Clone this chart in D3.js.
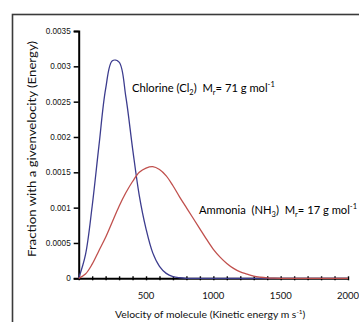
<!DOCTYPE html>
<html>
<head>
<meta charset="utf-8">
<script src="https://cdn.jsdelivr.net/npm/d3@7"></script>
<style>
  body { margin: 0; background: #fff; }
  svg { display: block; }
</style>
</head>
<body>
<div id="container"></div>
<script>
// velocities (m s-1) the curves were read at
var velocities = [0, 50, 100, 150, 200, 250, 300, 350, 400, 450, 500, 550, 600, 650, 700, 750, 800,
  850, 900, 950, 1000, 1050, 1100, 1150, 1200, 1250, 1300, 1350, 1400, 1450, 1500,
  1550, 1600, 1650, 1700, 1750, 1800, 1850, 1900, 1950, 2000]

var chlorine = [0, 0.00033, 0.00102, 0.00187, 0.00268, 0.00308, 0.00306, 0.00257, 0.00184, 0.00117,
  0.00070, 0.00036, 0.00017, 0.00007, 0.000025, 0.000008, 0,
  0, 0, 0, 0, 0, 0, 0, 0, 0, 0, 0, 0, 0, 0,
  0, 0, 0, 0, 0, 0, 0, 0, 0, 0]

var ammonia = [0, 0.00006, 0.00020, 0.00039, 0.00058, 0.00080, 0.00102, 0.00121, 0.00137, 0.00150,
  0.00156, 0.00158, 0.00154, 0.00145, 0.00131, 0.00115, 0.00100,
  0.00085, 0.00070, 0.00055, 0.00041, 0.00030, 0.00021, 0.00014, 0.00009, 0.00006, 0.00003,
  0.000015, 0.000006, 0.000002, 0,
  0, 0, 0, 0, 0, 0, 0, 0, 0, 0]

var yTicks = [0, 0.0005, 0.001, 0.0015, 0.002, 0.0025, 0.003, 0.0035]
var xTicks = [500, 1000, 1500, 2000]

var width = 359, height = 322

var svg = d3.select('#container').append('svg')
  .attr('width', width).attr('height', height)

// outer frame (runs off the right and bottom edges)
svg.append('rect')
  .attr('x', 12.5).attr('y', 14.5)
  .attr('width', 400).attr('height', 400)
  .attr('fill', '#fff').attr('stroke', '#3a3a3a').attr('stroke-width', 1.6)

var x = d3.scaleLinear().domain([0, 2000]).range([78.7, 348])
var y = d3.scaleLinear().domain([0, 0.0035]).range([278.3, 31])

// y axis
var yAxis = svg.append('g').attr('transform', 'translate(' + x(0) + ',0)')
  .call(d3.axisLeft(y).tickValues(yTicks).tickSize(5).tickPadding(3)
    .tickFormat(function (d) { return d === 0 ? '0' : String(+d.toFixed(4)) }))
yAxis.select('.domain').attr('stroke', '#000').attr('stroke-width', 2)
yAxis.selectAll('.tick line').attr('stroke', '#000').attr('stroke-width', 1.5)
yAxis.selectAll('.tick text')
  .attr('font-family', 'Liberation Sans, Arial, sans-serif')
  .attr('font-size', 8.2).attr('fill', '#111')

// x axis, minor marks every 100
var minor = d3.range(0, 2001, 100)
var xAxis = svg.append('g').attr('transform', 'translate(0,' + y(0) + ')')
  .call(d3.axisBottom(x).tickValues(minor).tickSize(0).tickFormat(''))
xAxis.select('.domain').attr('stroke', '#000').attr('stroke-width', 2)
xAxis.selectAll('.tick line').attr('y1', -2).attr('y2', 2)
  .attr('stroke', '#000').attr('stroke-width', 1.4)

svg.append('g').selectAll('text')
  .data(xTicks).enter().append('text')
  .attr('x', function (d) { return x(d) })
  .attr('y', y(0) + 21)
  .attr('text-anchor', 'middle')
  .attr('font-family', 'Lato, sans-serif')
  .attr('font-size', 9.5).attr('fill', '#111')
  .text(function (d) { return d })

// curves
var line = d3.line()
  .x(function (d, i) { return x(velocities[i]) })
  .y(function (d) { return y(d) })
  .curve(d3.curveCatmullRom.alpha(0.5))

svg.append('path').datum(chlorine)
  .attr('d', line).attr('fill', 'none')
  .attr('stroke', '#3c3c8e').attr('stroke-width', 1.3)

svg.append('path').datum(ammonia)
  .attr('d', line).attr('fill', 'none')
  .attr('stroke', '#c0504d').attr('stroke-width', 1.3)

// axis titles
svg.append('text')
  .attr('transform', 'translate(36,149) rotate(-90)')
  .attr('text-anchor', 'middle')
  .attr('font-family', 'Lato, sans-serif')
  .attr('font-size', 11).attr('fill', '#111')
  .attr('textLength', 216).attr('lengthAdjust', 'spacingAndGlyphs')
  .text('Fraction with a givenvelocity (Energy)')

var xt = svg.append('text')
  .attr('x', 115).attr('y', 318)
  .attr('font-family', 'Lato, sans-serif')
  .attr('font-size', 10.4).attr('fill', '#111')
xt.append('tspan').text('Velocity of molecule (Kinetic energy m s')
xt.append('tspan').attr('font-size', 6.5).attr('dy', -4).text('-1')
xt.append('tspan').attr('dy', 4).text(')')

// labels on the curves
function label(x0, y0, name, formula, sub, mr) {
  var t = svg.append('text').attr('x', x0).attr('y', y0)
    .attr('font-family', 'Lato, sans-serif')
    .attr('font-size', 11.2).attr('fill', '#000')
  t.append('tspan').text(name + ' (' + formula)
  t.append('tspan').attr('font-size', 7.5).attr('dy', 3).text(sub)
  t.append('tspan').attr('dy', -3).text(')\u00a0 M')
  t.append('tspan').attr('font-size', 7.5).attr('dy', 3).text('r')
  t.append('tspan').attr('dy', -3).text('= ' + mr + ' g mol')
  t.append('tspan').attr('font-size', 7.5).attr('dy', -5).text('-1')
}
label(132, 92, 'Chlorine', 'Cl', '2', 71)
label(199, 214, 'Ammonia\u00a0', 'NH', '3', 17)
</script>
</body>
</html>
